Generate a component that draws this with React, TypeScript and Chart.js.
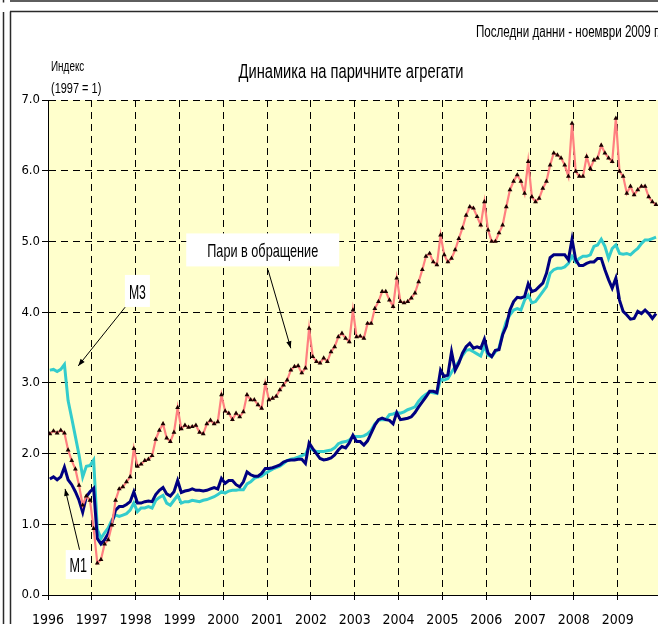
import React, { useEffect, useRef } from "react";
import { Chart, registerables } from "chart.js";

Chart.register(...registerables);

// ---------- data ----------
const START_YEAR = 1996;
const YEARS = [1996, 1997, 1998, 1999, 2000, 2001, 2002, 2003, 2004, 2005, 2006, 2007, 2008, 2009];
const Y_TICKS = [0, 1, 2, 3, 4, 5, 6, 7];

// Пари в обращение (monthly, Jan 1996 – Nov 2009), index 1997 = 1
const CURRENCY = [
  2.28, 2.32, 2.29, 2.33, 2.29, 2.05, 1.9, 1.78, 1.55, 1.27, 1.4, 1.34,
  0.94, 0.45, 0.5, 0.72, 0.78, 0.99, 1.34, 1.5, 1.53, 1.6, 1.67, 2.07,
  1.82, 1.85, 1.9, 1.92, 1.97, 2.2, 2.33, 2.42, 2.22, 2.17, 2.3, 2.65,
  2.35, 2.4, 2.37, 2.38, 2.4, 2.3, 2.28, 2.42, 2.47, 2.42, 2.45, 2.83,
  2.6, 2.57, 2.48, 2.57, 2.52, 2.59, 2.83, 2.76, 2.76, 2.69, 2.64, 2.99,
  2.76, 2.78, 2.81, 2.9, 2.97, 3.04, 3.18, 3.23, 3.24, 3.14, 3.21, 3.77,
  3.37, 3.3, 3.28, 3.35, 3.3, 3.44, 3.51, 3.65, 3.7, 3.63, 3.58, 4.03,
  3.65, 3.66, 3.63, 3.84, 3.84, 4.05, 4.15, 4.29, 4.29, 4.17, 4.08, 4.48,
  4.15, 4.13, 4.15, 4.2, 4.27, 4.43, 4.6, 4.79, 4.83, 4.71, 4.67, 5.09,
  4.81, 4.71, 4.76, 4.88, 5.04, 5.19, 5.37, 5.49, 5.47, 5.35, 5.23, 5.56,
  5.16, 5.0, 5.0, 5.12, 5.23, 5.49, 5.73, 5.85, 5.94, 5.85, 5.68, 6.13,
  5.63, 5.56, 5.61, 5.75, 5.85, 6.08, 6.25, 6.22, 6.18, 6.08, 5.92, 6.67,
  5.99, 5.92, 5.92, 6.2, 6.03, 6.15, 6.18, 6.36, 6.25, 6.18, 6.13, 6.74,
  5.99, 5.92, 5.68, 5.78, 5.66, 5.73, 5.78, 5.78, 5.63, 5.56, 5.52,
];

// M1
const M1 = [
  1.64, 1.67, 1.63, 1.67, 1.81, 1.63, 1.56, 1.46, 1.34, 1.17, 1.39, 1.46,
  1.51, 0.8, 0.72, 0.78, 0.87, 1.02, 1.2, 1.25, 1.25, 1.28, 1.32, 1.46,
  1.3, 1.3, 1.32, 1.33, 1.32, 1.42, 1.48, 1.52, 1.43, 1.4, 1.46, 1.62,
  1.45, 1.47, 1.48, 1.5, 1.48, 1.48, 1.47, 1.48, 1.5, 1.52, 1.5, 1.65,
  1.58, 1.62, 1.62, 1.56, 1.53, 1.6, 1.74, 1.7, 1.68, 1.68, 1.72, 1.79,
  1.79, 1.8, 1.82, 1.84, 1.88, 1.9, 1.91, 1.91, 1.92, 1.92, 1.86, 2.15,
  2.07, 2.0, 1.93, 1.91, 1.92, 1.94, 1.98, 2.05, 2.1, 2.08, 2.15, 2.26,
  2.17, 2.17, 2.12, 2.18, 2.29, 2.4, 2.48, 2.5, 2.48, 2.47, 2.42, 2.58,
  2.48, 2.49, 2.5, 2.52, 2.58, 2.66, 2.73, 2.8, 2.88, 2.88, 2.86, 3.18,
  3.09, 3.11, 3.44, 3.18, 3.28, 3.42, 3.51, 3.56, 3.49, 3.51, 3.49, 3.62,
  3.42, 3.37, 3.46, 3.47, 3.68, 3.8, 4.03, 4.15, 4.21, 4.2, 4.22, 4.4,
  4.29, 4.31, 4.36, 4.41, 4.55, 4.77, 4.81, 4.81, 4.81, 4.81, 4.74, 5.03,
  4.74, 4.66, 4.66, 4.69, 4.71, 4.71, 4.76, 4.76, 4.6, 4.46, 4.34, 4.48,
  4.17, 4.01, 3.96, 3.9, 3.91, 4.01, 3.98, 4.03, 3.98, 3.91, 3.98,
];

// M3
const M3 = [
  3.18, 3.19, 3.16, 3.19, 3.26, 2.75, 2.5, 2.24, 1.98, 1.67, 1.82, 1.83,
  1.91, 0.93, 0.8, 0.88, 0.95, 1.06, 1.13, 1.11, 1.13, 1.15, 1.2, 1.3,
  1.18, 1.23, 1.23, 1.25, 1.23, 1.34, 1.38, 1.41, 1.3, 1.27, 1.34, 1.41,
  1.3, 1.32, 1.32, 1.34, 1.33, 1.32, 1.34, 1.35, 1.37, 1.39, 1.42, 1.46,
  1.44, 1.47, 1.48, 1.48, 1.49, 1.49, 1.57, 1.6, 1.65, 1.67, 1.68, 1.72,
  1.75, 1.78, 1.8, 1.82, 1.86, 1.9, 1.92, 1.93, 1.95, 1.97, 1.99, 2.1,
  2.05, 2.03, 2.03, 2.03, 2.04, 2.05, 2.08, 2.14, 2.16, 2.17, 2.19, 2.24,
  2.24, 2.24, 2.25, 2.28, 2.33, 2.42, 2.47, 2.48, 2.48, 2.55, 2.56, 2.58,
  2.57, 2.59, 2.62, 2.64, 2.66, 2.74, 2.8, 2.84, 2.87, 2.86, 2.85, 3.05,
  3.04, 3.06, 3.15, 3.23, 3.3, 3.39, 3.46, 3.47, 3.44, 3.41, 3.38, 3.52,
  3.39, 3.37, 3.44, 3.49, 3.7, 3.87, 3.96, 4.03, 4.05, 4.03, 4.17, 4.24,
  4.13, 4.15, 4.22, 4.29, 4.36, 4.55, 4.6, 4.62, 4.62, 4.64, 4.69, 4.79,
  4.71, 4.76, 4.79, 4.79, 4.81, 4.93, 4.95, 5.03, 4.93, 4.76, 4.9, 4.95,
  4.83, 4.82, 4.83, 4.81, 4.86, 4.9, 4.97, 5.02, 5.02, 5.04, 5.06,
];

// ---------- texts & annotations ----------
const TITLE = "Динамика на паричните агрегати";
const SUBTITLE = "Последни данни - ноември 2009 г.";
const Y_TITLE = ["Индекс", "(1997 = 1)"];

const ANNOTATIONS = [
  { text: "Пари в обращение", cx: 2000.9, cy: 4.88, w: 153, h: 33, size: 18.5, tw: 111, from: [2001.02, 4.6], to: [2001.54, 3.49] },
  { text: "M3", cx: 1998.04, cy: 4.3, w: 25, h: 32, size: 21, tw: 17, from: [1997.76, 4.07], to: [1996.69, 3.24] },
  { text: "M1", cx: 1996.69, cy: 0.43, w: 25, h: 29, size: 21, tw: 17.5, from: [1996.72, 0.64], to: [1996.39, 1.5] },
];

const BASE_FONT = "'Liberation Sans', Arial, sans-serif";
const TICK_FONT = "'Liberation Sans Narrow', 'Arial Narrow', 'DejaVu Sans Condensed', sans-serif";

const W = 658;
const H = 624;

function drawFitted(
  ctx: CanvasRenderingContext2D,
  text: string,
  x: number,
  y: number,
  size: number,
  width: number,
  align: CanvasTextAlign
) {
  ctx.save();
  ctx.font = `${size}px ${BASE_FONT}`;
  const m = ctx.measureText(text).width || 1;
  const sx = width / m;
  ctx.translate(x, y);
  ctx.scale(sx, 1);
  ctx.textAlign = align;
  ctx.textBaseline = "alphabetic";
  ctx.fillStyle = "#000";
  ctx.fillText(text, 0, 0);
  ctx.restore();
}

const decorPlugin = {
  id: "decor",
  beforeDraw(chart: any) {
    const { ctx, chartArea } = chart;
    ctx.save();
    ctx.fillStyle = "#ffffff";
    ctx.fillRect(0, 0, chart.width, chart.height);
    ctx.fillStyle = "#FFFFCC";
    ctx.fillRect(chartArea.left, chartArea.top, chartArea.right - chartArea.left, chartArea.bottom - chartArea.top);
    ctx.restore();
  },
  afterDraw(chart: any) {
    const { ctx } = chart;
    const xs = chart.scales.x;
    const ys = chart.scales.y;

    // annotations
    ANNOTATIONS.forEach((a) => {
      const fx = xs.getPixelForValue(a.from[0]);
      const fy = ys.getPixelForValue(a.from[1]);
      const tx = xs.getPixelForValue(a.to[0]);
      const ty = ys.getPixelForValue(a.to[1]);
      ctx.save();
      ctx.strokeStyle = "#000";
      ctx.fillStyle = "#000";
      ctx.lineWidth = 1;
      ctx.beginPath();
      ctx.moveTo(fx, fy);
      ctx.lineTo(tx, ty);
      ctx.stroke();
      const ang = Math.atan2(ty - fy, tx - fx);
      const L = 7;
      const S = 2.6;
      ctx.beginPath();
      ctx.moveTo(tx, ty);
      ctx.lineTo(tx - L * Math.cos(ang) + S * Math.sin(ang), ty - L * Math.sin(ang) - S * Math.cos(ang));
      ctx.lineTo(tx - L * Math.cos(ang) - S * Math.sin(ang), ty - L * Math.sin(ang) + S * Math.cos(ang));
      ctx.closePath();
      ctx.fill();
      const cx = xs.getPixelForValue(a.cx);
      const cy = ys.getPixelForValue(a.cy);
      ctx.fillStyle = "#ffffff";
      ctx.fillRect(cx - a.w / 2, cy - a.h / 2, a.w, a.h);
      ctx.restore();
      drawFitted(ctx, a.text, cx, cy + a.size * 0.37, a.size, a.tw, "center");
    });

    // titles
    drawFitted(ctx, TITLE, 238.5, 77.5, 20.5, 225, "left");
    drawFitted(ctx, SUBTITLE, 476, 37.3, 16, 184, "left");
    drawFitted(ctx, Y_TITLE[0], 51, 70.5, 15, 33.3, "left");
    drawFitted(ctx, Y_TITLE[1], 51, 93.3, 15, 50.3, "left");

    // frame lines
    ctx.save();
    ctx.strokeStyle = "#2a2a2a";
    ctx.lineWidth = 1.5;
    ctx.beginPath();
    ctx.moveTo(3.5, 12);
    ctx.lineTo(3.5, H);
    ctx.moveTo(10.5, 11.5);
    ctx.lineTo(10.5, H);
    ctx.moveTo(10, 11.5);
    ctx.lineTo(W, 11.5);
    ctx.moveTo(10, 1);
    ctx.lineTo(W, 1);
    ctx.moveTo(3.5, 0);
    ctx.lineTo(3.5, 2.5);
    ctx.stroke();
    ctx.restore();
  },
};

const toPoints = (vals: number[]) => vals.map((v, i) => ({ x: START_YEAR + (i + 0.5) / 12, y: v }));

export default function App() {
  const ref = useRef<HTMLCanvasElement | null>(null);

  useEffect(() => {
    if (!ref.current) return;
    const chart = new Chart(ref.current, {
      type: "line",
      data: {
        datasets: [
          {
            label: "Пари в обращение",
            data: toPoints(CURRENCY),
            borderColor: "#FF8080",
            borderWidth: 2.2,
            pointStyle: "triangle",
            pointRadius: 2.8,
            pointBackgroundColor: "#1a0000",
            pointBorderColor: "#1a0000",
            pointBorderWidth: 0,
            tension: 0,
          },
          {
            label: "M1",
            data: toPoints(M1),
            borderColor: "#000080",
            borderWidth: 3,
            pointRadius: 0,
            tension: 0,
          },
          {
            label: "M3",
            data: toPoints(M3),
            borderColor: "#33CCCC",
            borderWidth: 3,
            pointRadius: 0,
            tension: 0,
          },
        ],
      },
      options: {
        responsive: false,
        animation: false,
        devicePixelRatio: 1,
        layout: { autoPadding: false, padding: { top: 100, left: 0, right: 0, bottom: 0 } },
        plugins: {
          legend: { display: false },
          tooltip: { enabled: false },
          title: { display: false },
        },
        scales: {
          x: {
            type: "linear",
            min: START_YEAR,
            max: 2009.92,
            afterBuildTicks: (s: any) => {
              s.ticks = YEARS.map((v) => ({ value: v }));
            },
            afterFit: (s: any) => {
              s.height = 29;
              s.paddingLeft = 0;
              s.paddingRight = 0;
            },
            ticks: {
              color: "#000",
              font: { family: TICK_FONT, size: 14 },
              padding: 12,
              maxRotation: 0,
              autoSkip: false,
              callback: (v: any) => String(v),
            },
            grid: {
              color: "#000",
              lineWidth: 1,
              tickLength: 5,
              tickColor: "#000",
              tickBorderDash: [],
            },
            border: { display: true, color: "#000", width: 1, dash: [7, 5] },
          },
          y: {
            min: 0,
            max: 7,
            afterBuildTicks: (s: any) => {
              s.ticks = Y_TICKS.map((v) => ({ value: v }));
            },
            afterFit: (s: any) => {
              s.width = 48;
              s.paddingTop = 0;
              s.paddingBottom = 0;
            },
            ticks: {
              color: "#000",
              font: { family: TICK_FONT, size: 13 },
              padding: 2,
              callback: (v: any) => Number(v).toFixed(1),
            },
            grid: {
              color: "#000",
              lineWidth: 1,
              tickLength: 6,
              tickColor: "#000",
              tickBorderDash: [],
            },
            border: { display: true, color: "#000", width: 1, dash: [7, 5] },
          },
        },
      },
      plugins: [decorPlugin],
    });
    return () => chart.destroy();
  }, []);

  return (
    <div style={{ position: "absolute", left: 0, top: 0, width: W, height: H, overflow: "hidden", background: "#fff" }}>
      <canvas ref={ref} width={W} height={H} style={{ display: "block", width: W, height: H }} />
    </div>
  );
}
